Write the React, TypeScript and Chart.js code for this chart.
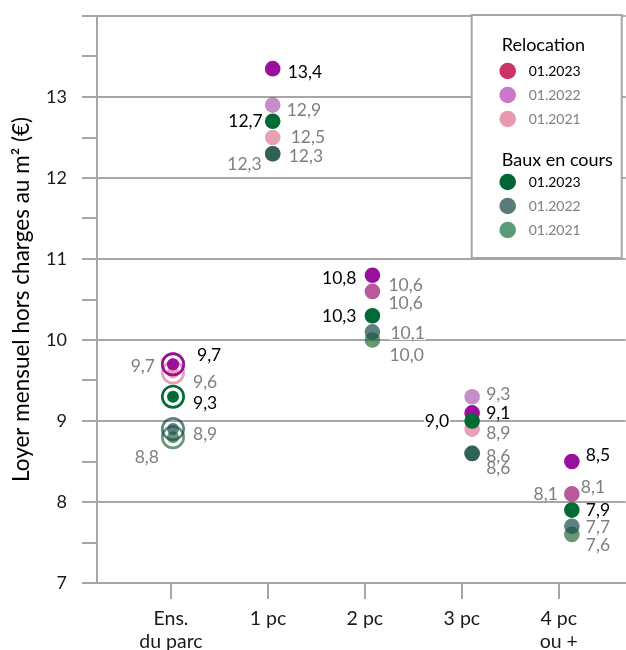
import React, { useEffect, useRef } from 'react';
import { Chart, registerables } from 'chart.js';

Chart.register(...registerables);

// ---- data ----
const categories: (string | string[])[] = [['Ens.', 'du parc'], '1 pc', '2 pc', '3 pc', ['4 pc', 'ou +']];
const relocation2023 = [9.7, 13.35, 10.8, 9.1, 8.5];
const relocation2022 = [9.7, 12.9, 10.6, 9.3, 8.1];
const relocation2021 = [9.6, 12.5, 10.6, 8.9, 8.1];
const baux2023 = [9.3, 12.7, 10.3, 9.0, 7.9];
const baux2022 = [8.9, 12.3, 10.1, 8.6, 7.7];
const baux2021 = [8.8, 12.3, 10.0, 8.6, 7.6];
const yTickLabels = [7, 8, 9, 10, 11, 12, 13];
const legendGroups = ['Relocation', 'Baux en cours'];
const legendYears = ['01.2023', '01.2022', '01.2021'];
const yTitle = 'Loyer mensuel hors charges au m² (€)';

// ---- styles ----
const FONT = 'Lato, "Noto Sans", sans-serif';
const GRID = '#a6a6a6';
const GRAY_TXT = '#7f7f7f';
const W = 626;
const H = 650;

type Side = 'l' | 'r';
type LabelPos = [Side, number, number];

interface Series {
  data: number[];
  color: string;
  legendColor: string;
  labelColor: string;
  group: number;
  year: number;
  pos: LabelPos[];
}

// drawing order: first is on top
const SERIES: Series[] = [
  {
    data: baux2023, color: '#006b35', legendColor: '#006633', labelColor: '#000', group: 1, year: 0,
    pos: [['r', 20, 7], ['l', 10, 0], ['l', 16, 1], ['l', 23, 0], ['r', 14, 0]],
  },
  {
    data: relocation2023, color: '#9b0f9e', legendColor: '#cc3366', labelColor: '#000', group: 0, year: 0,
    pos: [['r', 24, -9], ['r', 15, 4], ['l', 16, 3], ['r', 14, 0], ['r', 14, -6]],
  },
  {
    data: baux2022, color: 'rgba(26,76,76,0.7)', legendColor: '#5b7b7b', labelColor: GRAY_TXT, group: 1, year: 1,
    pos: [['r', 20, 5], ['r', 16, 3], ['r', 18, 1], ['r', 14, 3], ['r', 14, 1]],
  },
  {
    data: baux2021, color: 'rgba(41,105,55,0.7)', legendColor: '#5a9a78', labelColor: GRAY_TXT, group: 1, year: 2,
    pos: [['l', 14, 20], ['l', 11, 11], ['r', 17, 15], ['r', 14, 15], ['r', 14, 11]],
  },
  {
    data: relocation2022, color: 'rgba(128,4,128,0.45)', legendColor: '#cc77cc', labelColor: GRAY_TXT, group: 0, year: 1,
    pos: [['l', 18, 2], ['r', 14, 5], ['r', 16, -6], ['r', 14, -2], ['r', 9, -7]],
  },
  {
    data: relocation2021, color: 'rgba(204,44,88,0.45)', legendColor: '#e899b0', labelColor: GRAY_TXT, group: 0, year: 2,
    pos: [['r', 20, 10], ['r', 18, 0], ['r', 16, 12], ['r', 14, 4], ['l', 14, 0]],
  },
];

const fmt = (v: number) => (Math.round(v * 10 + 1e-6) / 10).toFixed(1).replace('.', ',');

const valueLabels = {
  id: 'valueLabels',
  beforeDatasetsDraw(chart: any) {
    const { ctx } = chart;
    const xs = chart.scales.x;
    const ys = chart.scales.y;
    ctx.save();
    ctx.font = `17.5px ${FONT}`;
    ctx.textBaseline = 'middle';
    ctx.textAlign = 'left';
    const items: { text: string; x: number; y: number; w: number; color: string }[] = [];
    SERIES.forEach((s) => {
      s.data.forEach((v, i) => {
        const [side, dx, dy] = s.pos[i];
        const px = xs.getPixelForValue(i);
        const py = ys.getPixelForValue(v) + dy;
        const text = fmt(v);
        const w = ctx.measureText(text).width;
        const x = side === 'r' ? px + dx : px - dx - w;
        items.push({ text, x, y: py, w, color: s.labelColor });
      });
    });
    ctx.fillStyle = '#fff';
    items.forEach((it) => ctx.fillRect(it.x - 1, it.y - 7, it.w + 2, 14));
    items.forEach((it) => {
      ctx.fillStyle = it.color;
      ctx.fillText(it.text, it.x, it.y);
    });
    ctx.restore();
  },
};

const groupLegend = {
  id: 'groupLegend',
  afterDraw(chart: any) {
    const { ctx, chartArea } = chart;
    const x0 = chartArea.right - 154;
    const y0 = chartArea.top - 1;
    const w = 150;
    const h = 243;
    ctx.save();
    ctx.fillStyle = '#fff';
    ctx.fillRect(x0, y0, w, h);
    ctx.strokeStyle = GRID;
    ctx.lineWidth = 2;
    ctx.strokeRect(x0, y0, w, h);
    ctx.textBaseline = 'middle';
    ctx.textAlign = 'left';
    const groupTop = [30, 145];
    const rowOff = [26, 50, 74];
    legendGroups.forEach((g, gi) => {
      ctx.font = `18px ${FONT}`;
      ctx.fillStyle = '#000';
      ctx.fillText(g, x0 + 30, y0 + groupTop[gi]);
      legendYears.forEach((yr, yi) => {
        const s = SERIES.find((q) => q.group === gi && q.year === yi)!;
        const cy = y0 + groupTop[gi] + rowOff[yi] - (gi === 1 ? 4 : 0);
        ctx.beginPath();
        ctx.arc(x0 + 36, cy, 8.3, 0, Math.PI * 2);
        ctx.fillStyle = s.legendColor;
        ctx.fill();
        ctx.font = `14px ${FONT}`;
        ctx.fillStyle = yi === 0 ? '#000' : GRAY_TXT;
        ctx.fillText(yr, x0 + 57, cy);
      });
    });
    ctx.restore();
  },
};

export default function App() {
  const ref = useRef<HTMLCanvasElement | null>(null);
  const boxRef = useRef<HTMLDivElement | null>(null);

  useEffect(() => {
    if (!ref.current || !boxRef.current) return;
    const datasets: any[] = [];
    SERIES.forEach((s) => {
      datasets.push({
        type: 'scatter',
        data: s.data.map((v, i) => ({ x: i, y: v })),
        pointRadius: (c: any) => (c.dataIndex === 0 ? 6 : 7.8),
        pointBorderWidth: 0,
        pointBackgroundColor: s.color,
        pointBorderColor: s.color,
        showLine: false,
      });
      datasets.push({
        type: 'scatter',
        data: [{ x: 0, y: s.data[0] }],
        pointRadius: 10.7,
        pointBorderWidth: 2.6,
        pointBackgroundColor: 'rgba(0,0,0,0)',
        pointBorderColor: s.color,
        showLine: false,
      });
    });

    const chart = new Chart(ref.current, {
      type: 'scatter',
      data: { datasets },
      plugins: [valueLabels, groupLegend],
      options: {
        animation: false,
        responsive: true,
        maintainAspectRatio: false,
        events: [],
        layout: { padding: { top: 16, left: 0, right: 0, bottom: 0 } },
        plugins: { legend: { display: false }, tooltip: { enabled: false } },
        scales: {
          x: { type: 'linear', display: false, min: -0.762, max: 4.54 },
          x2: {
            type: 'linear',
            position: 'bottom',
            min: -0.763,
            max: 4.69,
            afterBuildTicks: (scale: any) => {
              scale.ticks = categories.map((_, i) => ({ value: i }));
            },
            afterFit: (scale: any) => {
              scale.height = 67;
              scale.paddingLeft = 0;
              scale.paddingRight = 0;
            },
            ticks: {
              autoSkip: false,
              maxRotation: 0,
              padding: 8,
              color: '#1a1a1a',
              font: { family: FONT, size: 19.5, lineHeight: 1.2 },
              callback: (v: any) => categories[v as number] as any,
            },
            grid: { drawOnChartArea: false, drawTicks: true, tickLength: 16, color: GRID, lineWidth: 2 },
            border: { display: true, color: GRID, width: 2 },
          },
          y: {
            type: 'linear',
            min: 7,
            max: 14,
            afterFit: (scale: any) => {
              scale.width = 97;
              scale.paddingTop = 0;
              scale.paddingBottom = 0;
            },
            ticks: {
              stepSize: 0.5,
              autoSkip: false,
              padding: 15,
              color: '#1a1a1a',
              font: { family: FONT, size: 18 },
              callback: (v: any) => (yTickLabels.includes(v as number) ? String(v) : ''),
            },
            grid: {
              color: (c: any) => (Number.isInteger(c.tick?.value) ? GRID : 'rgba(0,0,0,0)'),
              tickColor: GRID,
              lineWidth: 2,
              tickLength: 15,
              drawTicks: true,
            },
            border: { display: true, color: GRID, width: 2 },
            title: {
              display: true,
              text: yTitle,
              color: '#000',
              font: { family: FONT, size: 22.5 },
              padding: { top: 8, bottom: 0 },
            },
          },
        },
      } as any,
    });

    // the plot area runs off the right edge of the picture: widen the canvas by
    // whatever right margin Chart.js reserved, and let the outer box clip it
    const extra = Math.round(W - chart.chartArea.right);
    if (extra > 0) {
      boxRef.current.style.width = `${W + extra}px`;
      chart.resize();
    }
    return () => chart.destroy();
  }, []);

  return (
    <div style={{ position: 'absolute', left: 0, top: 0, width: W, height: H, overflow: 'hidden', background: '#fff' }}>
      <div ref={boxRef} style={{ position: 'relative', width: W, height: H }}>
        <canvas ref={ref} />
      </div>
    </div>
  );
}
